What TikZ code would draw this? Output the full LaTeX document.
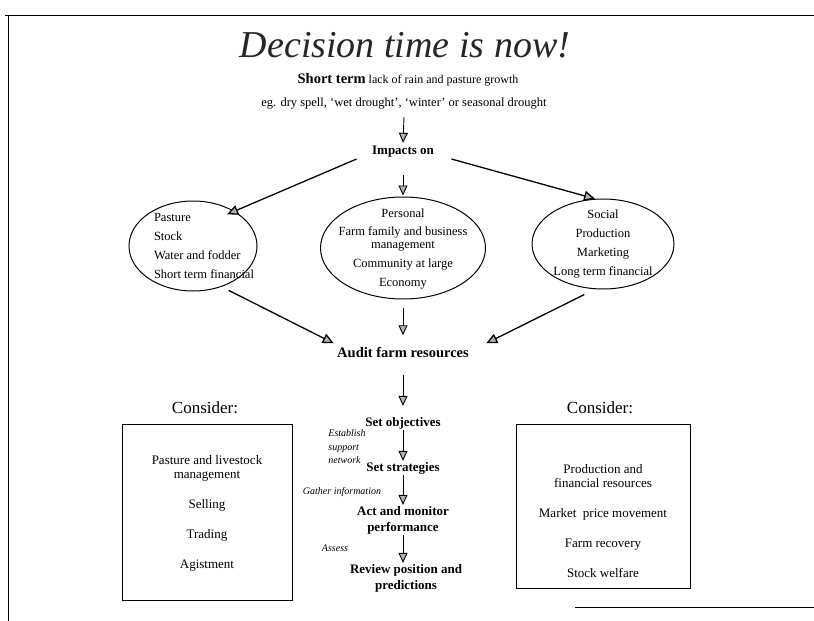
\documentclass[tikz,border=0pt]{standalone}
\usepackage{fontspec}
\setmainfont{Liberation Serif}
\usetikzlibrary{shapes.geometric,arrows.meta}
\tikzset{
every node/.style={font=\fontsize{12}{13.5}\selectfont},
flow/.style={-{Triangle[length=10pt,width=9pt,fill=black!30]},line width=0.9pt},
longflow/.style={-{Triangle[length=11pt,width=10pt,fill=black!30]},line width=1.3pt},
impact/.style={ellipse,draw=black,line width=1pt,minimum width=125pt,minimum height=90pt},
impacttext/.style={inner sep=0pt,font=\fontsize{12.5}{15}\selectfont},
consider/.style={rectangle,draw=black,line width=0.6pt},
stage/.style={font=\fontsize{13}{16}\selectfont\bfseries,align=center,inner sep=1pt},
aside/.style={font=\fontsize{10}{13.5}\selectfont\itshape,align=left,inner sep=1pt},
boxtext/.style={font=\fontsize{13}{14}\selectfont,align=center},
}
\begin{document}
\begin{tikzpicture}[x=1pt,y=-1pt]
\useasboundingbox (0,0) rectangle (814,621);
% frame of the scanned page
\draw[line width=1pt] (5,15) -- (814,15);
\draw[line width=0.8pt] (8,15) -- (8,621);
\draw[line width=1pt] (575,607) -- (814,607);

% heading
\node[font=\fontsize{38}{42}\selectfont\itshape,text=black!85] (title) at (405,45) {Decision time is now!};
\node (short) at (408,80) {{\fontsize{14.5}{15}\selectfont\bfseries Short term} lack of rain and pasture growth};
\node[font=\fontsize{12.5}{14}\selectfont] (eg) at (404,104) {eg. dry spell, `wet drought', `winter' or seasonal drought};
\node[font=\fontsize{13}{15}\selectfont\bfseries] (imp) at (403,152) {Impacts on};

% the three areas of impact
\node[impact,minimum width=128pt] (pastEll) at (193,246) {};
\node[impacttext,align=left] (pastTxt) at (204,246)
  {Pasture\\[4pt]Stock\\[4pt]Water and fodder\\[4pt]Short term financial};
\node[impact,minimum width=165pt,minimum height=102pt] (persEll) at (403,248) {};
\node[impacttext,align=center,font=\fontsize{12.5}{12.5}\selectfont] (persTxt) at (403,249)
  {Personal\\[6pt]Farm family and business\\management\\[7pt]Community at large\\[6pt]Economy};
\node[impact,minimum width=142pt,minimum height=90pt] (socEll) at (603,244) {};
\node[impacttext,align=center] (socTxt) at (603,244)
  {Social\\[4pt]Production\\[4pt]Marketing\\[4pt]Long term financial};

\node[font=\fontsize{14.5}{16}\selectfont\bfseries] (audit) at (403,352) {Audit farm resources};

% consider boxes
\node[font=\fontsize{17}{19}\selectfont] (consL) at (205,408) {Consider:};
\node[font=\fontsize{17}{19}\selectfont] (consR) at (600,408) {Consider:};
\node[consider,minimum width=170pt,minimum height=176pt] (boxL) at (207,512) {};
\node[boxtext] (boxLtxt) at (207,513) {Pasture and livestock\\management\\[16pt]Selling\\[16pt]Trading\\[16pt]Agistment};
\node[consider,minimum width=174pt,minimum height=164pt] (boxR) at (603,506) {};
\node[boxtext] (boxRtxt) at (603,521) {Production and\\financial resources\\[16pt]Market\ \ price movement\\[16pt]Farm recovery\\[16pt]Stock welfare};

% steps
\node[stage] (obj) at (403,423) {Set objectives};
\node[stage] (strat) at (403,468) {Set strategies};
\node[stage] (act) at (403,520) {Act and monitor\\performance};
\node[stage] (rev) at (406,578) {Review position and\\predictions};
\node[aside] (estab) at (347,447) {Establish\\support\\network};
\node[aside] (gather) at (342,492) {Gather information};
\node[aside] (assess) at (335,548) {Assess};

% arrows
\draw[flow] (eg.south) ++(0,4) -- (imp.north);
\draw[longflow,shorten >=-8pt] (imp.west) ++(-12,7) -- (pastEll.40);
\draw[longflow] (imp.east) ++(14,7) -- (socEll.100);
\draw[flow,shorten <=14pt,shorten >=1pt] (imp.south) -- (persEll.north);
\draw[longflow,shorten <=8pt] (pastEll.-55) -- (audit.north west);
\draw[longflow,shorten <=12pt] (socEll.-100) -- ([xshift=14pt]audit.north east);
\draw[flow,shorten <=8pt,shorten >=8pt] (persEll.south) -- (audit.north);
\draw[flow,shorten <=14pt,shorten >=10pt] (audit.south) -- (obj.north);
\draw[flow] (obj.south) -- (strat.north);
\draw[flow] (strat.south) -- (act.north);
\draw[flow] (act.south) -- (rev.north -| act.south);
\end{tikzpicture}
\end{document}
